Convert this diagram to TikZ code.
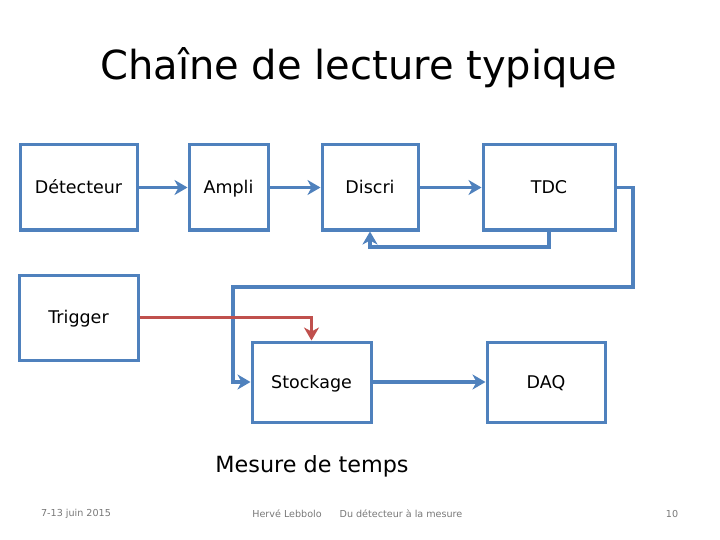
\documentclass[tikz,border=0pt]{standalone}
\usepackage{fontspec}
\setmainfont{DejaVu Sans}
\usetikzlibrary{arrows.meta}
\definecolor{boxblue}{RGB}{79,129,189}
\definecolor{trigred}{RGB}{192,80,77}
\definecolor{footgray}{RGB}{120,120,120}
\tikzset{
  box/.style={draw=boxblue, line width=3pt, fill=white, inner sep=0pt, text height=12.5pt, text depth=0pt, font=\fontsize{17.5}{20}\selectfont},
  arr/.style={draw=boxblue, line width=3.6pt, -{Stealth[length=13pt,width=15pt,inset=4pt]}},
  redarr/.style={draw=trigred, line width=3.6pt, -{Stealth[length=13pt,width=15pt,inset=4pt]}},
  foot/.style={text=footgray, font=\fontsize{9.6}{11}\selectfont, inner sep=0pt}
}
\begin{document}
\begin{tikzpicture}[x=1pt,y=-1pt]
\useasboundingbox (0,0) rectangle (720,540);
\node (title) at (359,68) {\fontsize{40}{46}\selectfont Chaîne de lecture typique};
\node[box, minimum width=117pt, minimum height=85pt] (det) at (78.5,187.5) {Détecteur};
\node[box, minimum width=79pt, minimum height=85pt] (amp) at (228.5,187.5) {Ampli};
\node[box, minimum width=96pt, minimum height=85pt] (dis) at (370,187.5) {Discri};
\node[box, minimum width=132pt, minimum height=85pt] (tdc) at (549,187.5) {TDC};
\node[box, minimum width=119pt, minimum height=85pt] (trig) at (78.5,317.5) {Trigger};
\node[box, minimum width=119pt, minimum height=80pt] (sto) at (311.5,382) {Stockage};
\node[box, minimum width=118pt, minimum height=80pt] (daq) at (546,382) {DAQ};
\coordinate (fb) at (549,247);
\coordinate (r1) at (633,187.5);
\coordinate (r2) at (633,287);
\coordinate (r3) at (233,287);
\draw[arr] (det.east) -- (amp.west);
\draw[arr] (amp.east) -- (dis.west);
\draw[arr] (dis.east) -- (tdc.west);
\draw[arr] (tdc.south) -- (fb) -| (dis.south);
\draw[arr] (tdc.east) -- (r1) -- (r2) -- (r3) |- (sto.west);
\draw[redarr] (trig.east) -| (sto.north);
\draw[arr] (sto.east) -- (daq.west);
\node (mes) at (312,466) {\fontsize{22.3}{26}\selectfont Mesure de temps};
\node[foot] (date) at (76,514) {7-13 juin 2015};
\node[foot] (auth) at (287,514) {Hervé Lebbolo};
\node[foot] (subj) at (401,514) {Du détecteur à la mesure};
\node[foot] (page) at (672,514) {10};
\end{tikzpicture}
\end{document}
